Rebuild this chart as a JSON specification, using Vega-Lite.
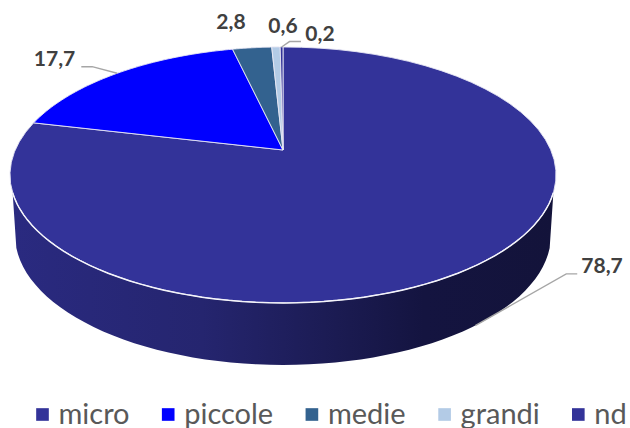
{
  "$schema": "https://vega.github.io/schema/vega-lite/v6.json",
  "width": 630,
  "height": 428,
  "autosize": {"type": "fit", "contains": "padding"},
  "padding": 0,
  "background": "#ffffff",
  "config": {"view": {"stroke": null}, "font": "Lato"},
  "data": {
    "values": [
      {"classe": "micro", "ordine": 1, "valore": 78.7},
      {"classe": "piccole", "ordine": 2, "valore": 17.7},
      {"classe": "medie", "ordine": 3, "valore": 2.8},
      {"classe": "grandi", "ordine": 4, "valore": 0.6},
      {"classe": "nd", "ordine": 5, "valore": 0.2}
    ]
  },
  "transform": [
    {"window": [{"op": "sum", "field": "valore", "as": "cum"}], "sort": [{"field": "ordine"}]},
    {"joinaggregate": [{"op": "sum", "field": "valore", "as": "totale"}]},
    {"calculate": "(datum.cum - datum.valore) / datum.totale * 2 * PI", "as": "th0"},
    {"calculate": "datum.cum / datum.totale * 2 * PI", "as": "th1"},
    {"calculate": "(datum.th0 + datum.th1) / 2", "as": "thm"}
  ],
  "encoding": {
    "x": {"field": "px", "type": "quantitative", "axis": null, "scale": {"domain": [-1.0568, 1.2957], "nice": false, "zero": false}},
    "y": {"field": "py", "type": "quantitative", "axis": null, "scale": {"domain": [-2.2583, 1.2185], "nice": false, "zero": false}}
  },
  "layer": [
    {
      "description": "Side wall of the disc: front of the top rim, then the lower rim walked backwards",
      "transform": [
        {"filter": "datum.classe === 'micro'"},
        {"calculate": "sequence(0, 122)", "as": "step"},
        {"flatten": ["step"]},
        {"calculate": "datum.step <= 60 ? (109 + 142 * datum.step / 60) * PI / 180 : (264.3 - 168.6 * (datum.step - 61) / 60) * PI / 180", "as": "th"},
        {"calculate": "datum.step <= 60 ? sin(datum.th) / (1 + 0.195 * cos(datum.th)) : 1.0007 * sin(datum.th)", "as": "px"},
        {"calculate": "datum.step <= 60 ? cos(datum.th) / (1 + 0.195 * cos(datum.th)) : -0.6905 + 1.056 * cos(datum.th)", "as": "py"}
      ],
      "mark": {
        "type": "line",
        "strokeWidth": 0,
        "fill": {
          "gradient": "linear", "x1": 0, "y1": 0, "x2": 1, "y2": 0,
          "stops": [
            {"offset": 0, "color": "#2a2a80"},
            {"offset": 0.35, "color": "#25256f"},
            {"offset": 0.6, "color": "#1b1b52"},
            {"offset": 0.76, "color": "#141440"},
            {"offset": 1, "color": "#13133a"}
          ]
        }
      },
      "encoding": {"order": {"field": "step", "type": "quantitative"}}
    },
    {
      "description": "Top face: one closed outline per class, seen in perspective",
      "transform": [
        {"calculate": "sequence(0, 63)", "as": "step"},
        {"flatten": ["step"]},
        {"calculate": "datum.th0 + (datum.th1 - datum.th0) * (datum.step - 1) / 60", "as": "th"},
        {"calculate": "(datum.step === 0 || datum.step === 62) ? 0 : 1", "as": "r"},
        {"calculate": "datum.r * sin(datum.th) / (1 + 0.195 * datum.r * cos(datum.th))", "as": "px"},
        {"calculate": "datum.r * cos(datum.th) / (1 + 0.195 * datum.r * cos(datum.th))", "as": "py"}
      ],
      "mark": {"type": "line", "stroke": "#e6e6f4", "strokeWidth": 0.9, "strokeJoin": "round"},
      "encoding": {
        "fill": {
          "field": "classe",
          "type": "nominal",
          "scale": {
            "domain": ["micro", "piccole", "medie", "grandi", "nd"],
            "range": ["#333399", "#0000ff", "#33628f", "#b3cbe6", "#333399"]
          },
          "legend": {
            "title": null,
            "orient": "none",
            "legendX": 28,
            "legendY": 400,
            "direction": "horizontal",
            "columns": 5,
            "gridAlign": "none",
            "columnPadding": 23.7,
            "symbolType": "square",
            "symbolSize": 160,
            "symbolStrokeWidth": 0,
            "labelOffset": 1.5,
            "labelFont": "Lato",
            "labelFontSize": 29,
            "labelColor": "#595959",
            "labelLimit": 200
          }
        },
        "order": {"field": "step", "type": "quantitative"}
      }
    },
    {
      "description": "Bright edge where the top face meets the side wall",
      "transform": [
        {"filter": "datum.classe === 'micro'"},
        {"calculate": "sequence(0, 61)", "as": "step"},
        {"flatten": ["step"]},
        {"calculate": "(109 + 142 * datum.step / 60) * PI / 180", "as": "th"},
        {"calculate": "sin(datum.th) / (1 + 0.195 * cos(datum.th))", "as": "px"},
        {"calculate": "cos(datum.th) / (1 + 0.195 * cos(datum.th))", "as": "py"}
      ],
      "mark": {"type": "line", "stroke": "#f4f4fa", "strokeWidth": 1.5},
      "encoding": {"order": {"field": "step", "type": "quantitative"}}
    },
    {
      "description": "Leader lines with an elbow, anchored at each class's mid angle",
      "transform": [
        {"filter": "indexof(['micro', 'piccole', 'nd'], datum.classe) >= 0"},
        {"calculate": "sequence(0, 3)", "as": "step"},
        {"flatten": ["step"]},
        {"calculate": "sin(datum.thm) / (1 + 0.195 * cos(datum.thm))", "as": "ax"},
        {"calculate": "cos(datum.thm) / (1 + 0.195 * cos(datum.thm))", "as": "ay"},
        {"calculate": "datum.classe === 'micro' ? 0.98 * datum.ax : datum.ax", "as": "bx"},
        {"calculate": "datum.classe === 'micro' ? -0.6905 - 1.056 * sqrt(1 - pow(datum.bx / 1.0007, 2)) : datum.ay", "as": "by"},
        {"calculate": "datum.bx + {'micro': [0, 0.34, 0.381], 'piccole': [0, -0.0934, -0.134], 'nd': [0, 0.0295, 0.0724]}[datum.classe][datum.step]", "as": "px"},
        {"calculate": "datum.by + {'micro': [0, 0.42, 0.42], 'piccole': [0, 0.0536, 0.0536], 'nd': [0, 0.044, 0.044]}[datum.classe][datum.step]", "as": "py"}
      ],
      "mark": {"type": "line", "stroke": "#a6a6a6", "strokeWidth": 1.4},
      "encoding": {
        "detail": {"field": "classe"},
        "order": {"field": "step", "type": "quantitative"}
      }
    },
    {
      "description": "Value labels with the decimal comma",
      "transform": [
        {"calculate": "sin(datum.thm) / (1 + 0.195 * cos(datum.thm))", "as": "ax"},
        {"calculate": "cos(datum.thm) / (1 + 0.195 * cos(datum.thm))", "as": "ay"},
        {"calculate": "datum.ax + {'micro': 0.459, 'piccole': -0.234, 'medie': -0.0788, 'grandi': 0.026, 'nd': 0.1434}[datum.classe]", "as": "px"},
        {"calculate": "datum.ay + {'micro': -0.024, 'piccole': 0.108, 'medie': 0.2015, 'grandi': 0.1625, 'nd': 0.0975}[datum.classe]", "as": "py"},
        {"calculate": "replace(format(datum.valore, '.1f'), '.', ',')", "as": "etichetta"}
      ],
      "mark": {"type": "text", "font": "Lato", "fontSize": 21, "fontWeight": "bold", "color": "#404040", "align": "center", "baseline": "middle"},
      "encoding": {"text": {"field": "etichetta", "type": "nominal"}}
    }
  ]
}
